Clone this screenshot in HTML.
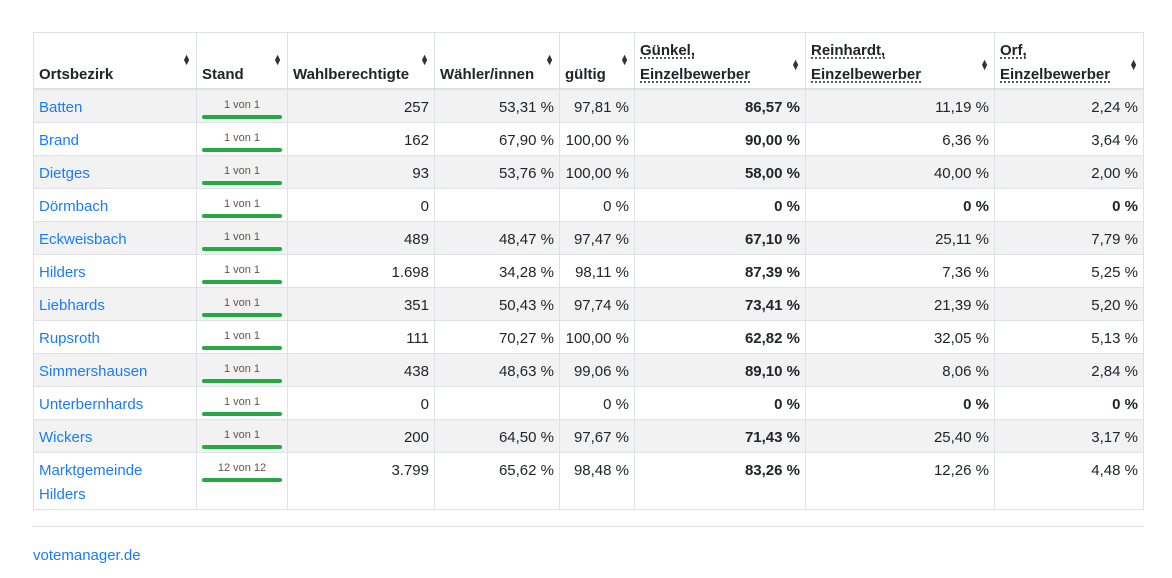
<!DOCTYPE html>
<html><head><meta charset="utf-8"><style>
body{margin:0;background:#fff;font-family:"Liberation Sans",Arial,sans-serif;font-size:15px;color:#212529;width:1172px;height:578px;overflow:hidden}
table{position:absolute;left:33px;top:32px;border-collapse:collapse;table-layout:fixed;width:1110px}
td,th{border:1px solid #dee2e6;padding:4px 5px 0;height:28px;white-space:nowrap;overflow:hidden;line-height:20px}
th{height:54px;padding:0 5px 1px;text-align:left;vertical-align:bottom;font-weight:bold;position:relative;border-bottom:2px solid #dee2e6;line-height:24px}
th .s{position:absolute;right:5px;top:22px;font-size:9px;line-height:5px;color:#333}
th u{text-decoration:underline dotted;text-underline-offset:3px}
tbody tr:nth-child(odd){background:#f2f2f2}
td{text-align:right}
td:first-child{text-align:left;color:#1a7cf5}
td.st{text-align:center;padding:0;font-size:11px;color:#6b5050;vertical-align:top;line-height:12px;padding-top:9px;height:23px}
td.st div{margin:4px auto 0;width:80px;height:4px;border-radius:2px;background:#28a745}
td.lr{height:50px;vertical-align:top;padding-top:6px;line-height:24px}
b{font-weight:bold}
hr{position:absolute;left:33px;top:526px;width:1110px;margin:0;border:0;border-top:1px solid #dee2e6}
.f{position:absolute;left:33px;top:547px;color:#1a7cf5}
</style></head><body>
<table>
<colgroup><col style="width:163px"><col style="width:91px"><col style="width:147px"><col style="width:125px"><col style="width:75px"><col style="width:171px"><col style="width:189px"><col style="width:149px"></colgroup>
<thead><tr>
<th>Ortsbezirk<span class="s">▲<br>▼</span></th>
<th>Stand<span class="s">▲<br>▼</span></th>
<th>Wahlberechtigte<span class="s">▲<br>▼</span></th>
<th>Wähler/innen<span class="s">▲<br>▼</span></th>
<th>gültig<span class="s">▲<br>▼</span></th>
<th><u>Günkel,</u><br><u>Einzelbewerber</u><span class="s" style="top:27px">▲<br>▼</span></th>
<th><u>Reinhardt,</u><br><u>Einzelbewerber</u><span class="s" style="top:27px">▲<br>▼</span></th>
<th><u>Orf,</u><br><u>Einzelbewerber</u><span class="s" style="top:27px">▲<br>▼</span></th>
</tr></thead>
<tbody>
<tr><td>Batten</td><td class="st">1 von 1<div></div></td><td>257</td><td>53,31 %</td><td>97,81 %</td><td><b>86,57 %</b></td><td>11,19 %</td><td>2,24 %</td></tr>
<tr><td>Brand</td><td class="st">1 von 1<div></div></td><td>162</td><td>67,90 %</td><td>100,00 %</td><td><b>90,00 %</b></td><td>6,36 %</td><td>3,64 %</td></tr>
<tr><td>Dietges</td><td class="st">1 von 1<div></div></td><td>93</td><td>53,76 %</td><td>100,00 %</td><td><b>58,00 %</b></td><td>40,00 %</td><td>2,00 %</td></tr>
<tr><td>Dörmbach</td><td class="st">1 von 1<div></div></td><td>0</td><td></td><td>0 %</td><td><b>0 %</b></td><td><b>0 %</b></td><td><b>0 %</b></td></tr>
<tr><td>Eckweisbach</td><td class="st">1 von 1<div></div></td><td>489</td><td>48,47 %</td><td>97,47 %</td><td><b>67,10 %</b></td><td>25,11 %</td><td>7,79 %</td></tr>
<tr><td>Hilders</td><td class="st">1 von 1<div></div></td><td>1.698</td><td>34,28 %</td><td>98,11 %</td><td><b>87,39 %</b></td><td>7,36 %</td><td>5,25 %</td></tr>
<tr><td>Liebhards</td><td class="st">1 von 1<div></div></td><td>351</td><td>50,43 %</td><td>97,74 %</td><td><b>73,41 %</b></td><td>21,39 %</td><td>5,20 %</td></tr>
<tr><td>Rupsroth</td><td class="st">1 von 1<div></div></td><td>111</td><td>70,27 %</td><td>100,00 %</td><td><b>62,82 %</b></td><td>32,05 %</td><td>5,13 %</td></tr>
<tr><td>Simmershausen</td><td class="st">1 von 1<div></div></td><td>438</td><td>48,63 %</td><td>99,06 %</td><td><b>89,10 %</b></td><td>8,06 %</td><td>2,84 %</td></tr>
<tr><td>Unterbernhards</td><td class="st">1 von 1<div></div></td><td>0</td><td></td><td>0 %</td><td><b>0 %</b></td><td><b>0 %</b></td><td><b>0 %</b></td></tr>
<tr><td>Wickers</td><td class="st">1 von 1<div></div></td><td>200</td><td>64,50 %</td><td>97,67 %</td><td><b>71,43 %</b></td><td>25,40 %</td><td>3,17 %</td></tr>
<tr><td class="lr">Marktgemeinde<br>Hilders</td><td class="st" style="height:47px">12 von 12<div></div></td><td class="lr">3.799</td><td class="lr">65,62 %</td><td class="lr">98,48 %</td><td class="lr"><b>83,26 %</b></td><td class="lr">12,26 %</td><td class="lr">4,48 %</td></tr>
</tbody></table>
<hr>
<div class="f">votemanager.de</div>
</body></html>
